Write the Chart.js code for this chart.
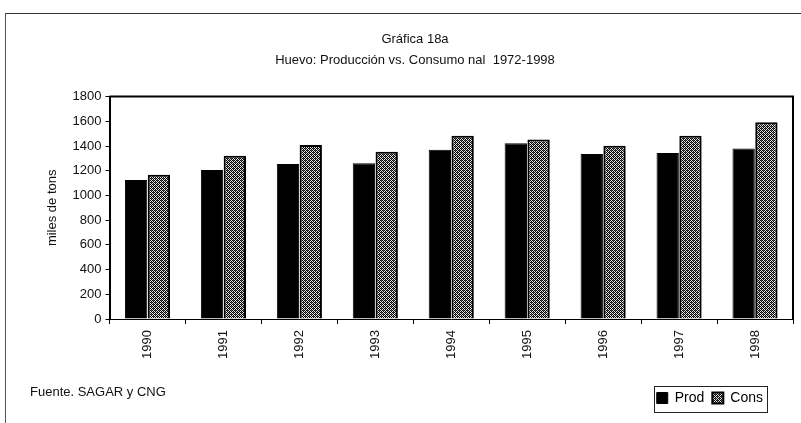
<!DOCTYPE html>
<html>
<head>
<meta charset="utf-8">
<script src="https://cdn.jsdelivr.net/npm/chart.js@4.4.0/dist/chart.umd.min.js"></script>
<style>
  html, body { margin:0; padding:0; background:#fff; }
  #wrap { position:relative; width:801px; height:423px; }
  #frame { position:absolute; left:5px; top:13px; right:0; bottom:0; border-top:1px solid #333; border-left:1px solid #555; pointer-events:none; }
  #fuente { position:absolute; left:30px; top:384px; font:13px "Liberation Sans", Arial, sans-serif; color:#111; }
</style>
</head>
<body>
<div id="wrap">
  <canvas id="c" width="801" height="423"></canvas>
  <div id="frame"></div>
  <div id="fuente">Fuente. SAGAR y CNG</div>
</div>
<script>
// datos
const years = ['1990','1991','1992','1993','1994','1995','1996','1997','1998'];
const prod = [1125, 1206, 1255, 1260, 1370, 1422, 1336, 1344, 1379];
const cons = [1168, 1322, 1409, 1354, 1484, 1452, 1403, 1484, 1592];
const titulo = ['Gráfica 18a', 'Huevo: Producción vs. Consumo nal  1972-1998'];
const ejeY = 'miles de tons';

// trama gris punteada para Consumo
function trama() {
  const c = document.createElement('canvas');
  c.width = 4; c.height = 4;
  const g = c.getContext('2d');
  g.fillStyle = '#e6e6e6'; g.fillRect(0, 0, 4, 4);
  g.fillStyle = '#000';
  for (let y = 0; y < 4; y++)
    for (let x = 0; x < 4; x++)
      if ((x + y) % 2 === 0) g.fillRect(x, y, 1, 1);
  g.fillStyle = '#555';
  g.fillRect(1, 0, 1, 1); g.fillRect(3, 2, 1, 1);
  return document.getElementById('c').getContext('2d').createPattern(c, 'repeat');
}

const PAD_LEY = 8;
const marco = {
  id: 'marco',
  afterLayout(chart) {
    // correr la leyenda hacia la izquierda como en el original
    chart.legend.right -= 22;
    chart.legend.adjustHitBoxes();
  },
  afterDraw(chart) {
    const { ctx, chartArea: a } = chart;
    ctx.save();
    ctx.strokeStyle = '#000'; ctx.lineWidth = 2;
    ctx.beginPath();
    ctx.moveTo(a.left, a.top); ctx.lineTo(a.right, a.top); ctx.lineTo(a.right, a.bottom);
    ctx.stroke();
    // recuadro de la leyenda
    const lg = chart.legend;
    const w = lg.lineWidths ? lg.lineWidths[0] : 110;
    const l = Math.round(lg.right - w - 3), r = Math.round(lg.right - PAD_LEY + 4);
    const t = Math.round(lg.top + PAD_LEY - 5), b = Math.round(lg.bottom - PAD_LEY + 5);
    ctx.lineWidth = 1; ctx.strokeStyle = '#222';
    ctx.strokeRect(l + 0.5, t + 0.5, r - l, b - t);
    ctx.restore();
  }
};

const fuente = '"Liberation Sans", Arial, sans-serif';
Chart.defaults.font.family = fuente;
Chart.defaults.font.size = 13;
Chart.defaults.color = '#111';

new Chart(document.getElementById('c'), {
  type: 'bar',
  data: {
    labels: years,
    datasets: [
      { label: 'Prod', data: prod, backgroundColor: '#000', borderColor: '#000', borderWidth: 1,
        categoryPercentage: 0.6, barPercentage: 0.98 },
      { label: 'Cons', data: cons, backgroundColor: trama(), borderColor: '#000', borderWidth: 2,
        categoryPercentage: 0.6, barPercentage: 0.98 }
    ]
  },
  options: {
    responsive: false,
    animation: false,
    layout: { padding: { left: 37, right: 8, bottom: 8 } },
    plugins: {
      title: { display: true, text: titulo, color: '#111', font: { size: 13, weight: 'normal', lineHeight: 1.6 },
               padding: { top: 29, bottom: 26 } },
      legend: { position: 'bottom', align: 'end',
                labels: { boxWidth: 11, boxHeight: 11, padding: PAD_LEY, color: '#000', font: { size: 14 } } },
      tooltip: { enabled: false }
    },
    scales: {
      x: {
        grid: { display: true, drawOnChartArea: false, offset: true, color: '#000', tickLength: 5 },
        border: { color: '#000', width: 1 },
        ticks: { minRotation: 90, maxRotation: 90, color: '#111', padding: 6 },
        afterFit(s) { s.height = 64; }
      },
      y: {
        min: 0, max: 1800,
        ticks: { stepSize: 200, color: '#111', padding: 4, callback: v => String(v) },
        grid: { display: true, drawOnChartArea: false, color: '#000', tickLength: 4 },
        border: { color: '#000', width: 2 },
        title: { display: true, text: ejeY, color: '#111', font: { size: 13 }, padding: 8 }
      }
    }
  },
  plugins: [marco]
});
</script>
</body>
</html>
